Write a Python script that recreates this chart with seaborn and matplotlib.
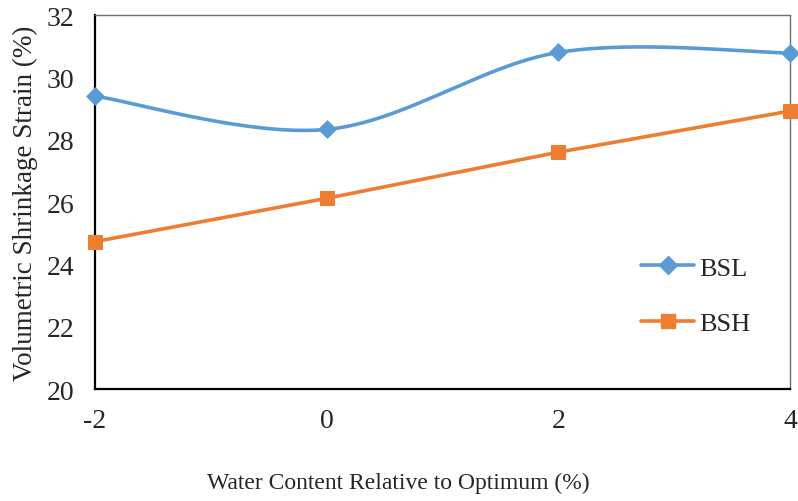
import numpy as np
import pandas as pd
import matplotlib
matplotlib.use("Agg")
import matplotlib.pyplot as plt
import seaborn as sns
from matplotlib.lines import Line2D

water = [-2, 0, 2, 4]
bsl = [29.40, 28.33, 30.80, 30.78]
bsh = [24.73, 26.12, 27.60, 28.92]
xticks = [-2, 0, 2, 4]
yticks = [20, 22, 24, 26, 28, 30, 32]

sns.set_style("white")
plt.rcParams['font.family'] = ['Liberation Serif', 'DejaVu Serif']

BLUE = "#5B9BD5"
ORANGE = "#ED7D31"

fig = plt.figure(figsize=(7.98, 5.02), dpi=100)
ax = fig.add_axes([0.119, 0.223, 0.871, 0.745])

# Excel-style smoothed curve (Bezier with Catmull-Rom control points) in pixel-ish space
def smooth(xs, ys, sx=695/6, sy=374/12, n=60):
    P = np.column_stack([np.array(xs, float) * sx, np.array(ys, float) * sy])
    out = []
    for i in range(len(P) - 1):
        p0 = P[i - 1] if i > 0 else P[i]
        p1, p2 = P[i], P[i + 1]
        p3 = P[i + 2] if i + 2 < len(P) else P[i + 1]
        c1 = p1 + (p2 - p0) / 6
        c2 = p2 - (p3 - p1) / 6
        t = np.linspace(0, 1, n)[:, None]
        seg = (1 - t) ** 3 * p1 + 3 * (1 - t) ** 2 * t * c1 + 3 * (1 - t) * t ** 2 * c2 + t ** 3 * p2
        out.append(seg if i == 0 else seg[1:])
    out = np.vstack(out)
    return out[:, 0] / sx, out[:, 1] / sy

sxs, sys_ = smooth(water, bsl)
sns.lineplot(x=sxs, y=sys_, ax=ax, color=BLUE, linewidth=2.6, sort=False, zorder=3)
sns.scatterplot(x=water, y=bsl, ax=ax, color=BLUE, marker="D", s=80, edgecolor=BLUE, zorder=4, clip_on=False)

sns.lineplot(x=water, y=bsh, ax=ax, color=ORANGE, linewidth=2.6, marker="s", markersize=10,
             markeredgecolor=ORANGE, zorder=3, clip_on=False)

ax.set_xlim(-2, 4)
ax.set_ylim(20, 32)
ax.set_xticks(xticks)
ax.set_yticks(yticks)
ax.set_xticklabels([str(v) for v in xticks], fontsize=20)
ax.set_yticklabels([str(v) for v in yticks], fontsize=20)
ax.tick_params(axis='both', direction='out', length=6, width=1.2, color='black')
ax.tick_params(axis='y', pad=9)
ax.tick_params(axis='x', pad=8)

for side in ['left', 'bottom']:
    ax.spines[side].set_color('black')
    ax.spines[side].set_linewidth(1.6)
for side in ['top', 'right']:
    ax.spines[side].set_color('#6e6e6e')
    ax.spines[side].set_linewidth(1.0)

ax.set_xlabel("Water Content Relative to Optimum (%)", fontsize=17)
ax.xaxis.set_label_coords(0.437, -0.222)
ax.set_ylabel("Volumetric Shrinkage Strain (%)", fontsize=19.5, labelpad=6)

handles = [Line2D([0], [0], color=BLUE, lw=2.6, marker="D", markersize=9),
           Line2D([0], [0], color=ORANGE, lw=2.6, marker="s", markersize=10)]
ax.legend(handles, ["BSL", "BSH"], loc="center left", bbox_to_anchor=(0.752, 0.25),
          frameon=False, fontsize=19, labelspacing=1.2, handlelength=2.0, handletextpad=0.2)

fig.savefig("out.png", dpi=100)
